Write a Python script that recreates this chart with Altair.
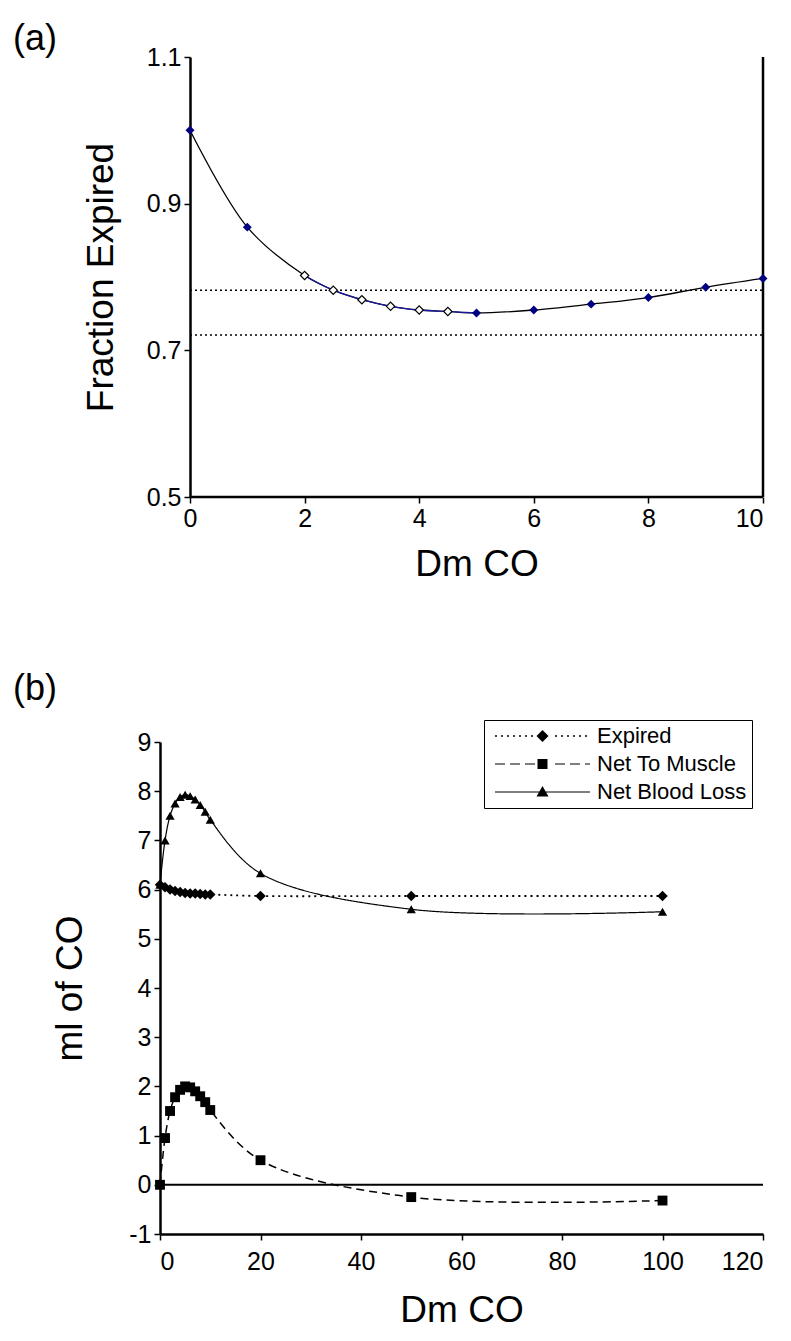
import altair as alt
import pandas as pd

# ---------------- data: panel (a) ----------------
a_dm = [0, 1, 2, 2.5, 3, 3.5, 4, 4.5, 5, 6, 7, 8, 9, 10]
a_frac = [1.0, 0.868, 0.802, 0.782, 0.769, 0.760, 0.755, 0.753, 0.751, 0.755, 0.763, 0.772, 0.786, 0.798]
a_hollow = [False, False, True, True, True, True, True, True, False, False, False, False, False, False]
a_ref_lines = [0.782, 0.721]
a_xticks = [0, 2, 4, 6, 8, 10]
a_yticks = [0.5, 0.7, 0.9, 1.1]

# ---------------- data: panel (b) ----------------
b_dm = [0, 1, 2, 3, 4, 5, 6, 7, 8, 9, 10, 20, 50, 100]
b_expired = [6.10, 6.05, 6.00, 5.97, 5.95, 5.93, 5.92, 5.92, 5.91, 5.90, 5.90, 5.87, 5.87, 5.87]
b_muscle = [0.00, 0.95, 1.50, 1.78, 1.93, 2.00, 1.98, 1.90, 1.80, 1.68, 1.52, 0.50, -0.25, -0.32]
b_blood = [6.10, 7.00, 7.50, 7.75, 7.88, 7.93, 7.90, 7.83, 7.72, 7.58, 7.42, 6.33, 5.60, 5.55]
series_names = ["Expired", "Net To Muscle", "Net Blood Loss"]
b_xticks = [0, 20, 40, 60, 80, 100, 120]
b_yticks = [-1, 0, 1, 2, 3, 4, 5, 6, 7, 8, 9]

FONT = "Liberation Sans"
W = 603
A_H = 440
B_H = 492
A_SHIFT = 30  # px the (a) axis sits right of the panel origin
A_XMIN = -A_SHIFT * a_xticks[-1] / (W - A_SHIFT)
PLAIN = "'' + datum.value"

# ---------------- panel (a) ----------------
df_a = pd.DataFrame({"dm": a_dm, "frac": a_frac, "hollow": a_hollow})
xa = alt.X("dm:Q", scale=alt.Scale(domain=[A_XMIN, a_xticks[-1]], nice=False, zero=False),
           axis=alt.Axis(values=a_xticks, labelExpr=PLAIN, domain=False, title="Dm CO",
                         titleX=(W + A_SHIFT) / 2, titleAlign="center", titlePadding=15, labelPadding=3))
ya = alt.Y("frac:Q", scale=alt.Scale(domain=[a_yticks[0], a_yticks[-1]], nice=False, zero=False),
           axis=alt.Axis(values=a_yticks, format=".1f", offset=-A_SHIFT, title="Fraction Expired",
                         titlePadding=26))

base_a = alt.Chart(df_a)
line_a = base_a.mark_line(interpolate="catmull-rom", color="black", strokeWidth=1.3).encode(x=xa, y=ya)
line_a_blue = base_a.transform_filter("datum.dm >= 2 && datum.dm <= 5").mark_line(
    interpolate="catmull-rom", color="#1a1aa0", strokeWidth=1.3).encode(x=xa, y=ya)
pts_filled = base_a.transform_filter("!datum.hollow").mark_point(
    shape="diamond", filled=True, color="#000080", size=80, opacity=1).encode(x=xa, y=ya)
pts_hollow = base_a.transform_filter("datum.hollow").mark_point(
    shape="diamond", filled=True, fill="white", stroke="black", strokeWidth=1.2, size=70, opacity=1
).encode(x=xa, y=ya)

ref_df = pd.DataFrame({"yv": a_ref_lines})
ref_lines = alt.Chart(ref_df).mark_rule(color="black", strokeDash=[2, 3], strokeWidth=1.5).encode(
    y=alt.Y("yv:Q", scale=alt.Scale(domain=[a_yticks[0], a_yticks[-1]], nice=False, zero=False)),
    x=alt.datum(a_xticks[0]), x2=alt.datum(a_xticks[-1]))

frame_df = pd.DataFrame({"x0": [a_xticks[0]], "x1": [a_xticks[-1]], "y0": [a_yticks[0]], "y1": [a_yticks[-1]]})
bottom_line = alt.Chart(frame_df).mark_rule(color="black", strokeWidth=2.5).encode(
    x=alt.X("x0:Q"), x2="x1:Q", y=alt.Y("y0:Q"))
right_line = alt.Chart(frame_df).mark_rule(color="black", strokeWidth=2.5).encode(
    x=alt.X("x1:Q"), y=alt.Y("y0:Q"), y2="y1:Q")

lab_a = alt.Chart(pd.DataFrame({"t": ["(a)"]})).mark_text(
    align="left", baseline="middle", fontSize=36, font=FONT, color="black").encode(
    text="t:N", x=alt.value(-147), y=alt.value(-18))

panel_a = alt.layer(ref_lines, bottom_line, right_line, line_a, line_a_blue, pts_filled, pts_hollow, lab_a
                    ).properties(width=W, height=A_H)

# ---------------- panel (b) ----------------
rows = []
for name, vals in zip(series_names, [b_expired, b_muscle, b_blood]):
    for xv, yv in zip(b_dm, vals):
        rows.append({"series": name, "dm": xv, "ml": yv})
df_b = pd.DataFrame(rows)

xb = alt.X("dm:Q", scale=alt.Scale(domain=[b_xticks[0], b_xticks[-1]], nice=False),
           axis=alt.Axis(values=b_xticks, labelExpr=PLAIN, title="Dm CO", titlePadding=18, labelPadding=9))
yb = alt.Y("ml:Q", scale=alt.Scale(domain=[b_yticks[0], b_yticks[-1]], nice=False, zero=False),
           axis=alt.Axis(values=b_yticks, labelExpr=PLAIN, title="ml of CO", titlePadding=39))

base_b = alt.Chart(df_b)
zero_line = alt.Chart(pd.DataFrame({"z": [0]})).mark_rule(color="black", strokeWidth=2).encode(
    y=alt.Y("z:Q", scale=alt.Scale(domain=[b_yticks[0], b_yticks[-1]], nice=False, zero=False)))

lines_b = base_b.mark_line(interpolate="catmull-rom", color="black").encode(
    x=xb, y=yb, detail="series:N",
    strokeDash=alt.StrokeDash("series:N", scale=alt.Scale(domain=series_names, range=[[2, 4], [8, 5], [1, 0]]),
                              legend=None),
    strokeWidth=alt.StrokeWidth("series:N", scale=alt.Scale(domain=series_names, range=[1.8, 1.2, 1.2]),
                                legend=None))
pts_b = base_b.mark_point(filled=True, color="black", opacity=1).encode(
    x=xb, y=yb,
    shape=alt.Shape("series:N", scale=alt.Scale(domain=series_names, range=["diamond", "square", "triangle-up"]),
                    legend=None),
    size=alt.Size("series:N", scale=alt.Scale(domain=series_names, range=[110, 85, 100]), legend=None))


def seg_rects(seg, gap, half, start=-1.0, end=18.0, skip=(7.7, 10.3)):
    """legend line sample drawn as thin filled rectangles (units: symbol half-size)"""
    parts = []
    x = start
    while x < end - 1e-9:
        x2 = min(x + seg, end)
        if not (x2 > skip[0] and x < skip[1]):
            parts.append(f"M{x:.2f},{-half}L{x2:.2f},{-half}L{x2:.2f},{half}L{x:.2f},{half}Z")
        x += seg + gap
    return "".join(parts)


leg_paths = [
    seg_rects(0.4, 0.8, 0.15) + "M8.5,-1.2L9.7,0L8.5,1.2L7.3,0Z",
    seg_rects(2.0, 1.0, 0.12, skip=(7.2, 9.8)) + "M7.5,-1L9.5,-1L9.5,1L7.5,1Z",
    seg_rects(19.0, 0.0, 0.11, skip=(100, 100)) + "M8.5,-1.2L9.7,0.9L7.3,0.9Z",
]
legend_layer = base_b.transform_filter("false").mark_point(
    filled=True, fill="black", stroke="black", strokeWidth=0).encode(
    x=xb, y=yb,
    shape=alt.Shape("series:N", scale=alt.Scale(domain=series_names, range=leg_paths),
                    legend=alt.Legend(title=None, orient="none", legendX=324, legendY=-22,
                                      symbolSize=100, symbolFillColor="black", symbolStrokeColor="black",
                                      symbolStrokeWidth=0, symbolOpacity=1, labelFontSize=22,
                                      labelFont=FONT, labelColor="black", labelOffset=86,
                                      rowPadding=6, strokeColor="black", fillColor="white",
                                      padding=5, labelLimit=400)))

lab_b = alt.Chart(pd.DataFrame({"t": ["(b)"]})).mark_text(
    align="left", baseline="middle", fontSize=36, font=FONT, color="black").encode(
    text="t:N", x=alt.value(-147), y=alt.value(-53))

panel_b = alt.layer(zero_line, lines_b, pts_b, legend_layer, lab_b).resolve_scale(
    shape="independent").properties(width=W, height=B_H)

chart = alt.vconcat(panel_a, panel_b, spacing=89).resolve_scale(
    x="independent", y="independent", shape="independent", strokeDash="independent", size="independent",
    strokeWidth="independent"
).properties(
    padding={"left": 5, "top": 13, "right": 0, "bottom": 5}
).configure(font=FONT).configure_view(stroke=None).configure_axis(
    grid=False, domainColor="black", domainWidth=2.5, tickColor="black", tickWidth=1.5, tickSize=6,
    labelColor="black", labelFontSize=25, labelFont=FONT, labelPadding=3,
    titleColor="black", titleFontSize=37, titleFontWeight="normal", titleFont=FONT
)

chart.save("out.html", embed_options={"renderer": "svg", "actions": False})
